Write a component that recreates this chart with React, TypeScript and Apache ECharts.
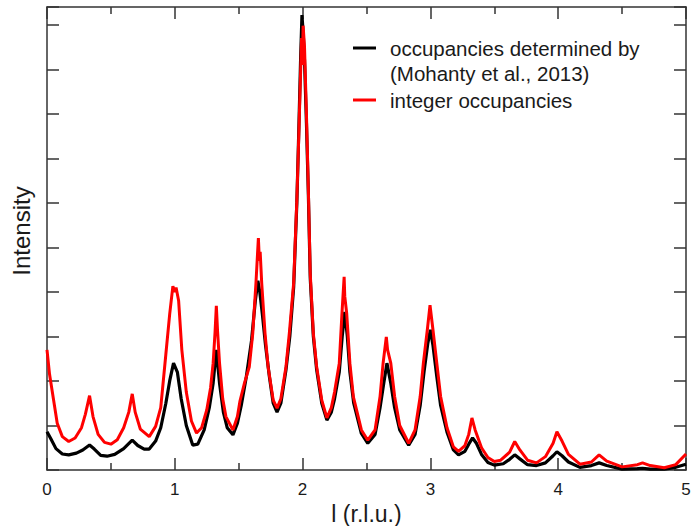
import React, { useEffect, useRef } from "react";
import * as echarts from "echarts";

// l (r.l.u.), intensity (arb. units)
const blackCurve: [number, number][] = [
  [0.0, 0.86], [0.03, 0.7], [0.07, 0.48], [0.12, 0.36], [0.17, 0.34], [0.23, 0.38], [0.28, 0.45],
  [0.333, 0.56], [0.37, 0.47], [0.42, 0.33], [0.47, 0.31], [0.53, 0.35], [0.6, 0.48], [0.667, 0.67],
  [0.71, 0.55], [0.76, 0.47], [0.8, 0.47], [0.85, 0.65], [0.89, 0.95], [0.93, 1.5], [0.96, 2.0],
  [0.99, 2.4], [1.02, 2.2], [1.05, 1.6], [1.09, 1.0], [1.14, 0.56], [1.18, 0.58], [1.23, 0.9],
  [1.27, 1.4], [1.3, 1.95], [1.325, 2.7], [1.35, 1.95], [1.38, 1.3], [1.41, 0.95], [1.455, 0.79],
  [1.49, 1.05], [1.52, 1.45], [1.56, 2.1], [1.6, 2.9], [1.63, 3.8], [1.65, 4.25], [1.665, 4.0],
  [1.685, 3.5], [1.71, 2.8], [1.74, 2.1], [1.77, 1.5], [1.8, 1.3], [1.83, 1.5], [1.87, 2.25],
  [1.9, 3.0], [1.93, 4.1], [1.955, 6.0], [1.97, 7.6], [1.985, 9.3], [1.995, 10.22], [2.005, 9.8],
  [2.015, 9.2], [2.03, 7.8], [2.045, 6.2], [2.06, 4.3], [2.084, 3.0], [2.11, 2.25], [2.15, 1.5],
  [2.19, 1.12], [2.225, 1.3], [2.25, 1.6], [2.287, 2.2], [2.31, 3.0], [2.33, 3.55], [2.35, 3.0],
  [2.37, 2.2], [2.4, 1.5], [2.46, 0.82], [2.51, 0.6], [2.567, 0.8], [2.606, 1.4], [2.635, 1.95],
  [2.66, 2.4], [2.69, 1.95], [2.72, 1.4], [2.76, 0.9], [2.83, 0.56], [2.88, 0.8], [2.92, 1.45],
  [2.95, 2.2], [2.98, 2.85], [3.0, 3.15], [3.02, 2.8], [3.05, 2.1], [3.08, 1.45], [3.13, 0.85],
  [3.18, 0.45], [3.22, 0.34], [3.27, 0.42], [3.3, 0.58], [3.33, 0.72], [3.36, 0.6], [3.4, 0.35],
  [3.45, 0.17], [3.5, 0.11], [3.57, 0.14], [3.62, 0.24], [3.66, 0.34], [3.7, 0.25], [3.76, 0.12],
  [3.83, 0.1], [3.9, 0.16], [3.96, 0.32], [3.99, 0.41], [4.03, 0.32], [4.08, 0.18], [4.17, 0.06],
  [4.26, 0.1], [4.32, 0.16], [4.38, 0.1], [4.5, 0.02], [4.62, 0.03], [4.66, 0.04], [4.72, 0.02],
  [4.83, 0.02], [4.92, 0.06], [5.0, 0.13],
];

const redCurve: [number, number][] = [
  [0.0, 2.7], [0.02, 2.15], [0.05, 1.6], [0.08, 1.05], [0.12, 0.75], [0.17, 0.64], [0.22, 0.72],
  [0.27, 0.95], [0.3, 1.25], [0.333, 1.67], [0.36, 1.2], [0.4, 0.8], [0.45, 0.62], [0.5, 0.58],
  [0.55, 0.68], [0.6, 0.95], [0.64, 1.3], [0.667, 1.71], [0.69, 1.3], [0.73, 0.92], [0.8, 0.75],
  [0.85, 0.98], [0.89, 1.4], [0.93, 2.6], [0.96, 3.5], [0.985, 4.13], [1.0, 4.0], [1.01, 4.1],
  [1.03, 3.8], [1.055, 2.7], [1.09, 1.75], [1.13, 1.1], [1.17, 0.83], [1.21, 0.95], [1.25, 1.35],
  [1.28, 1.85], [1.3, 2.4], [1.315, 3.1], [1.325, 3.69], [1.335, 3.1], [1.35, 2.4], [1.375, 1.6],
  [1.4, 1.2], [1.455, 0.9], [1.49, 1.2], [1.51, 1.55], [1.545, 1.95], [1.583, 2.32], [1.61, 3.07],
  [1.635, 4.2], [1.654, 5.21], [1.662, 4.7], [1.668, 4.9], [1.68, 4.2], [1.706, 3.07], [1.73, 2.32],
  [1.77, 1.57], [1.8, 1.39], [1.83, 1.6], [1.87, 2.32], [1.896, 3.07], [1.93, 4.2], [1.955, 6.07],
  [1.97, 7.5], [1.985, 9.0], [1.992, 9.7], [1.998, 9.1], [2.004, 9.98], [2.015, 9.5], [2.03, 8.0],
  [2.045, 6.3], [2.06, 4.4], [2.084, 3.07], [2.11, 2.32], [2.15, 1.57], [2.19, 1.17], [2.225, 1.4],
  [2.25, 1.75], [2.287, 2.4], [2.308, 3.52], [2.325, 4.34], [2.33, 3.9], [2.345, 3.52], [2.37, 2.4],
  [2.397, 1.65], [2.46, 0.9], [2.51, 0.67], [2.567, 0.9], [2.606, 1.65], [2.63, 2.4], [2.655, 2.99],
  [2.665, 2.7], [2.69, 2.4], [2.72, 1.65], [2.76, 1.0], [2.83, 0.6], [2.88, 0.9], [2.92, 1.65],
  [2.945, 2.4], [2.976, 3.15], [2.997, 3.7], [3.02, 3.15], [3.05, 2.4], [3.08, 1.65], [3.13, 0.95],
  [3.18, 0.52], [3.22, 0.42], [3.27, 0.55], [3.3, 0.8], [3.325, 1.17], [3.35, 0.9], [3.4, 0.5],
  [3.45, 0.28], [3.5, 0.19], [3.55, 0.22], [3.62, 0.4], [3.66, 0.64], [3.7, 0.45], [3.76, 0.22],
  [3.83, 0.16], [3.9, 0.3], [3.96, 0.6], [3.99, 0.86], [4.03, 0.65], [4.08, 0.35], [4.17, 0.13],
  [4.26, 0.18], [4.32, 0.34], [4.38, 0.2], [4.5, 0.07], [4.62, 0.12], [4.66, 0.16], [4.72, 0.1],
  [4.83, 0.05], [4.92, 0.12], [5.0, 0.36],
];

const seriesNames = ["occupancies determined by (Mohanty et al., 2013)", "integer occupancies"];
const legendTexts = ["occupancies determined by", "(Mohanty et al., 2013)", "integer occupancies"];
const xTitle = "l (r.l.u.)";
const yTitle = "Intensity";

const FONT = "'Liberation Sans', Arial, Helvetica, sans-serif";
const AXIS_COLOR = "#333";
const TEXT_COLOR = "#1a1a1a";

export default function App() {
  const ref = useRef<HTMLDivElement>(null);

  useEffect(() => {
    if (!ref.current) return;
    const chart = echarts.init(ref.current, undefined, { renderer: "svg" });

    const axisLine = { show: true, onZero: false, lineStyle: { color: AXIS_COLOR, width: 1.5 } };
    const xCommon = {
      type: "value" as const,
      min: 0,
      max: 5,
      interval: 1,
      axisLine,
      splitLine: { show: false },
      axisTick: { show: true, inside: true, length: 12, lineStyle: { color: AXIS_COLOR, width: 1.5 } },
      minorTick: { show: true, splitNumber: 2, length: 7, lineStyle: { color: AXIS_COLOR, width: 1.5 } },
    };
    const yCommon = {
      type: "value" as const,
      min: 0,
      max: 10.4,
      interval: 1,
      axisLine,
      splitLine: { show: false },
      axisLabel: { show: false },
      axisTick: { show: true, inside: true, length: 12, lineStyle: { color: AXIS_COLOR, width: 1.5 } },
    };

    chart.setOption({
      animation: false,
      backgroundColor: "#fff",
      grid: { left: 47, right: 6, top: 7, bottom: 56, containLabel: false, outerBoundsMode: "none" },
      xAxis: [
        {
          ...xCommon,
          position: "bottom",
          name: xTitle,
          nameLocation: "middle",
          nameGap: 31,
          nameTextStyle: { fontSize: 23, lineHeight: 20, fontFamily: FONT, color: TEXT_COLOR },
          axisLabel: {
            show: true,
            margin: 11,
            fontSize: 17,
            fontFamily: FONT,
            color: TEXT_COLOR,
            formatter: (v: number) => String(v),
          },
        },
        { ...xCommon, position: "top", axisLabel: { show: false } },
      ],
      yAxis: [
        { ...yCommon, position: "left" },
        { ...yCommon, position: "right" },
      ],
      series: [
        {
          name: seriesNames[0],
          type: "line",
          xAxisIndex: 0,
          yAxisIndex: 0,
          data: blackCurve,
          showSymbol: false,
          symbol: "none",
          lineStyle: { color: "#000", width: 3.2 },
          itemStyle: { color: "#000" },
          z: 2,
        },
        {
          name: seriesNames[1],
          type: "line",
          xAxisIndex: 0,
          yAxisIndex: 0,
          data: redCurve,
          showSymbol: false,
          symbol: "none",
          lineStyle: { color: "#ff0000", width: 3 },
          itemStyle: { color: "#ff0000" },
          z: 3,
        },
      ],
      graphic: [
        {
          type: "text",
          x: 21,
          y: 231,
          rotation: Math.PI / 2,
          style: {
            text: yTitle,
            fontSize: 24,
            fontFamily: FONT,
            fill: TEXT_COLOR,
            textAlign: "center",
            textVerticalAlign: "middle",
          },
        },
        {
          type: "line",
          shape: { x1: 353, y1: 48, x2: 376, y2: 48 },
          style: { stroke: "#000", lineWidth: 3 },
        },
        {
          type: "line",
          shape: { x1: 353, y1: 100, x2: 376, y2: 100 },
          style: { stroke: "#ff0000", lineWidth: 3 },
        },
        {
          type: "text",
          x: 390,
          y: 48,
          style: { text: legendTexts[0], fontSize: 20.5, fontFamily: FONT, fill: TEXT_COLOR, textVerticalAlign: "middle" },
        },
        {
          type: "text",
          x: 390,
          y: 73,
          style: { text: legendTexts[1], fontSize: 20.5, fontFamily: FONT, fill: TEXT_COLOR, textVerticalAlign: "middle" },
        },
        {
          type: "text",
          x: 390,
          y: 100.5,
          style: { text: legendTexts[2], fontSize: 20.5, fontFamily: FONT, fill: TEXT_COLOR, textVerticalAlign: "middle" },
        },
      ],
    });

    return () => chart.dispose();
  }, []);

  return (
    <div
      ref={ref}
      style={{ position: "fixed", left: 0, top: 0, width: 692, height: 526, background: "#fff" }}
    />
  );
}
